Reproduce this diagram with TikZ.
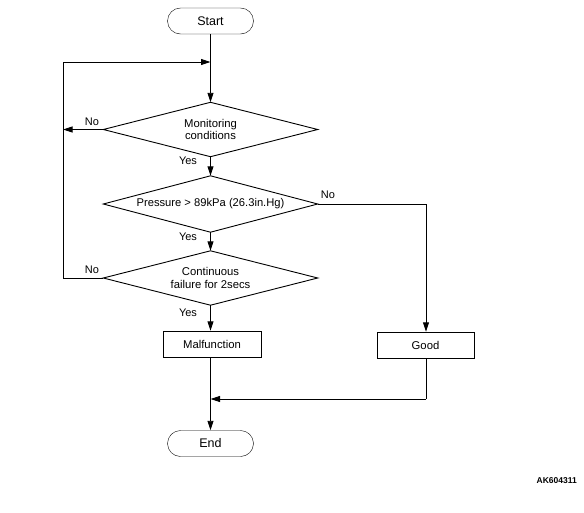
\documentclass[tikz,border=0pt]{standalone}
\usepackage{fontspec}
\setmainfont{Liberation Sans}
\usetikzlibrary{arrows.meta}
\begin{document}
\begin{tikzpicture}[x=1pt,y=-1pt,
  every node/.style={font=\fontsize{11.3}{12}\selectfont},
  term/.style={draw,rounded corners=13pt,minimum width=86pt,minimum height=26pt,inner sep=0pt,font=\fontsize{12.5}{13}\selectfont},
  proc/.style={draw,minimum width=98pt,minimum height=26pt,inner sep=0pt},
  dec/.style={rectangle,minimum width=214pt,minimum height=54pt,inner sep=0pt,align=center,font=\fontsize{11.3}{12.5}\selectfont},
  lbl/.style={inner sep=0pt,font=\fontsize{11}{12}\selectfont},
  line/.style={line width=0.9pt},
  arr/.style={line width=0.9pt,-{Triangle[length=9.5pt,width=6pt]}},
]
\path[use as bounding box,fill=white] (0,0) rectangle (584,512);
\node[term] (start) at (210.5,21) {Start};
\node[dec] (d1) at (210.5,129.5) {Monitoring\\conditions};
\node[dec,minimum height=56pt] (d2) at (210.5,204) {\fontsize{11.2}{12}\selectfont Pressure > 89kPa (26.3in.Hg)};
\node[dec] (d3) at (210.5,278) {Continuous\\failure for 2secs};
\node[proc] (mal) at (212,344) {Malfunction};
\node[proc,minimum width=97pt] (good) at (425.5,345) {Good};
\node[term] (end) at (210.5,443.5) {End};
\node[font=\bfseries\fontsize{8.5}{10}\selectfont,anchor=east,inner sep=0pt] (code) at (577,481) {AK604311};

\foreach \d in {d1,d2,d3}
  \draw[line,line join=miter] (\d.north) -- (\d.east) -- (\d.south) -- (\d.west) -- cycle;

\coordinate (jTop) at (210.5,62);
\coordinate (cTL) at (63,62);
\coordinate (cL1) at (63,129.5);
\coordinate (cBL) at (63,278);
\coordinate (cR) at (426,204);
\coordinate (cGB) at (426,399);
\coordinate (jBot) at (210.5,399);

\draw[arr] (start) -- (d1);
\draw[arr] (d1.west) -- (cL1);
\draw[arr] (d1) -- (d2);
\draw[arr] (d2) -- (d3);
\draw[arr] (d2.east) -- (cR) -- (cR |- good.north);
\draw[line] (d3.west) -- (cBL) -- (cTL);
\draw[arr] (cTL) -- (jTop);
\draw[arr] (d3) -- (d3.south |- mal.north);
\draw[arr] (mal.south -| end.north) -- (end);
\draw[line] (good.south -| cGB) -- (cGB);
\draw[arr] (cGB) -- (jBot);

\node[lbl] (no1) at (92,122) {No};
\node[lbl] (yes1) at (188,161) {Yes};
\node[lbl] (no2) at (328,195) {No};
\node[lbl] (yes2) at (188,237) {Yes};
\node[lbl] (no3) at (92,270) {No};
\node[lbl] (yes3) at (188,313) {Yes};
\end{tikzpicture}
\end{document}
